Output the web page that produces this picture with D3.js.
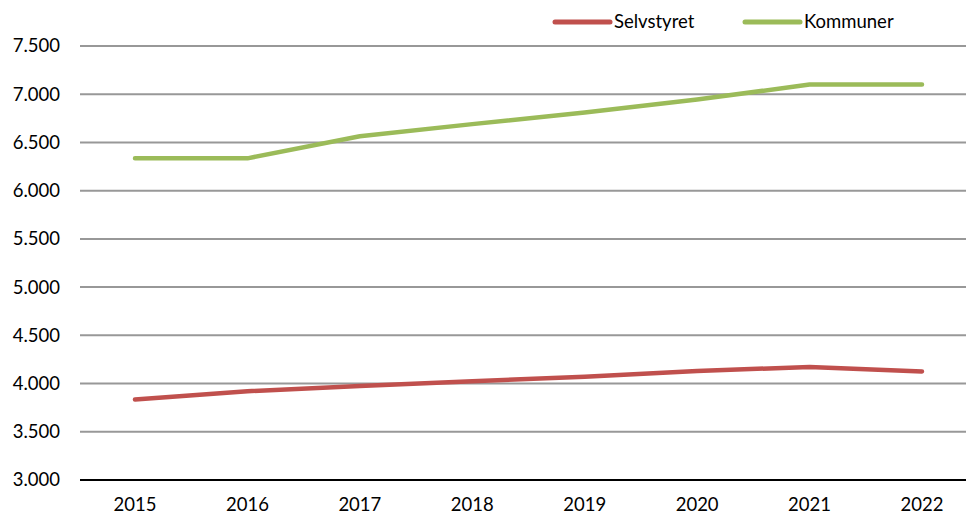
<!DOCTYPE html>
<meta charset="utf-8">

<style>
body { margin: 0; background: #fff; }
svg.chart text { font-family: Lato, "Open Sans", sans-serif; font-size: 18.5px; fill: #000; }
svg.chart .grid line { stroke: #989898; stroke-width: 2px; }
svg.chart .series { fill: none; stroke-width: 4.5px; stroke-linecap: round; stroke-linejoin: round; }
</style>

<svg class="chart" width="967" height="516"></svg>

<script src="https://d3js.org/d3.v7.min.js"></script>

<script>

var years = ["2015", "2016", "2017", "2018", "2019", "2020", "2021", "2022"];
var selvstyret = [3835, 3920, 3975, 4025, 4070, 4130, 4172, 4125];
var kommuner = [6335, 6335, 6565, 6690, 6810, 6945, 7100, 7100];
var yTicks = [3000, 3500, 4000, 4500, 5000, 5500, 6000, 6500, 7000, 7500];
var seriesNames = ["Selvstyret", "Kommuner"];
var seriesColors = ["#C0504D", "#9BBB59"];

var svg = d3.select("svg.chart");
var plotLeft = 80, plotRight = 966;

var x = d3.scalePoint()
  .domain(years)
  .range([135, 922]);

var y = d3.scaleLinear()
  .domain([3000, 7500])
  .range([480, 46]);

var fmt = function(v) { return d3.format(",")(v).replace(",", "."); };

// gridlines
svg.append("g")
  .attr("class", "grid")
  .selectAll("line")
  .data(yTicks.slice(1))
  .enter().append("line")
    .attr("x1", plotLeft)
    .attr("x2", plotRight)
    .attr("y1", function(d) { return y(d); })
    .attr("y2", function(d) { return y(d); });

// y labels
svg.append("g")
  .selectAll("text")
  .data(yTicks)
  .enter().append("text")
    .attr("x", 60)
    .attr("y", function(d) { return y(d); })
    .attr("dy", "0.35em")
    .attr("text-anchor", "end")
    .text(fmt);

// x axis baseline
svg.append("line")
  .attr("x1", plotLeft)
  .attr("x2", plotRight)
  .attr("y1", y(3000))
  .attr("y2", y(3000))
  .style("stroke", "#000")
  .style("stroke-width", "2px");

svg.append("g")
  .selectAll("text")
  .data(years)
  .enter().append("text")
    .attr("x", function(d) { return x(d); })
    .attr("y", 505)
    .attr("dy", "0.35em")
    .attr("text-anchor", "middle")
    .text(function(d) { return d; });

// lines
var line = d3.line()
  .x(function(d, i) { return x(years[i]); })
  .y(function(d) { return y(d); });

[selvstyret, kommuner].forEach(function(values, i) {
  svg.append("path")
    .attr("class", "series")
    .attr("d", line(values))
    .style("stroke", seriesColors[i]);
});

// legend
var legendX = [555, 745];
var legend = svg.append("g")
  .selectAll("g")
  .data(seriesNames)
  .enter().append("g")
    .attr("transform", function(d, i) { return `translate(${legendX[i]},22)`; });

legend.append("line")
  .attr("x1", 0)
  .attr("x2", 55)
  .style("stroke", function(d, i) { return seriesColors[i]; })
  .style("stroke-width", "5px")
  .style("stroke-linecap", "round");

legend.append("text")
  .attr("x", 59)
  .attr("dy", "0.35em")
  .text(function(d) { return d; });

</script>
